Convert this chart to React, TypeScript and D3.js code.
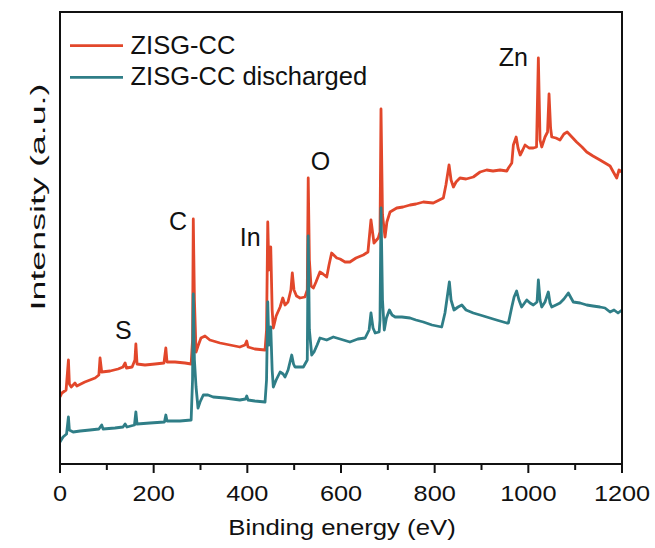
import React from "react";
import * as d3 from "d3";

// Binding energy (eV) and intensity (a.u.)
const redEnergy = [0,4,13,18,20,24,32,36,53,75,83,85.5,89,107,124,134.5,139,142,154,160,162,164.5,181.5,203,222,226,228.5,245.6,267,280,283,284.6,287,290.5,294.7,301,309.6,320,341.7,363,384,395,398.7,401.5,416,437.8,441,443.6,446,450,453,455.5,461.5,470,475.7,480.5,486.8,493,496,499.6,505,512.5,523,528,530,532.5,536,541,546.6,555,561.6,569.5,574.4,580,591,598,608.6,619,632,647.6,657.5,664,670.4,679.6,683.3,685.4,688.6,694,698,704.7,719,732.4,747.4,760,775.8,797,818.5,824,830.7,835,840,845.6,854,867,882.5,897,911,924.6,939.6,954,957.5,964.7,968,974,978,982.6,988,993,1001.5,1010.7,1017.5,1021.4,1025,1028.6,1035.6,1041,1044.2,1047.5,1050,1059,1067.6,1076,1083,1091,1103,1114.6,1124.7,1138,1153,1167.4,1174.5,1181.5,1188.7,1193.6,1200];
const redIntensity = [67,71,74,104,80,77,81,78,82,86,89,106,92,93,95,97,101,96,97,104,120,100,99,100,101,116,102,102,101,100,124,245,164,112,118,126,128,124,121,119,117,119,123,117,115,114,134,242,194,217,154,136,148,157,166,159,162,174,191,174,168,166,167,174,286,204,178,176,182,192,190,187,199,211,206,205,202,202,206,209,212,244,221,226,232,355,249,227,242,252,256,257,259,260,262,261,266,279,299,284,277,282,286,285,287,292,294,293,294,293,296,301,319,327,316,309,314,319,316,316,317,406,324,317,327,332,370,336,327,326,324,330,332,328,322,317,312,308,304,300,298,292,286,294,292];

const tealEnergy = [0,6.4,14,18,20,28,43,64,83,89,92,117.4,134.5,139,143,159,162,164.5,192,223,226,228.5,256,280,283,284.6,287,290.5,294.7,299,306,316,327,352,384,396,398.7,401.5,416,437.8,441,443.6,446,450,453,455.5,461.5,470,476.4,480.5,487,494.8,498.6,501.7,512.5,519.6,528,530,532.5,537.5,542.4,549,555,569.5,583.6,598,619,636,651.5,660,664,668.4,673,681.4,683.3,685.4,688.6,692.4,697,703.3,709,715.7,730,747.4,760,775.8,794.3,815,822,831.4,835,841.3,850,858,867,882.5,897,911,932,954,957.5,964.7,969.6,975,980,985.7,996.6,1003.6,1010.7,1018.6,1021.4,1025,1028.6,1035.6,1042.7,1046.3,1050,1059,1067.6,1076,1085.4,1096,1110.5,1124.7,1138,1153,1163.7,1174.5,1183,1191.5,1200];
const tealIntensity = [22,27,30,47,34,32,33,34,35,39,35,36,37,40,37,39,52,40,41,42,49,43,43,44,84,170,104,77,56,62,69,69,67,66,64,65,68,64,63,62,84,162,119,137,94,77,84,92,90,87,94,109,100,97,97,97,104,228,134,109,112,119,126,124,127,125,122,125,126,134,151,136,131,132,144,256,164,134,146,154,149,147,147,146,144,142,139,137,151,182,164,154,157,159,154,151,149,147,144,141,141,157,167,173,164,157,164,161,159,162,184,164,157,162,172,161,157,159,161,165,171,162,161,159,158,157,156,152,154,151,154];

const energyTicks = [0, 200, 400, 600, 800, 1000, 1200];
const minorTicks = [100, 300, 500, 700, 900, 1100];

const seriesNames = ["ZISG-CC", "ZISG-CC discharged"];
const seriesColors = ["#e2472b", "#2f7e87"];

const peakLabels = ["S", "C", "In", "O", "Zn"];
const peakEnergies = [135, 252, 406, 556, 968];
const peakHeights = [125, 234, 218, 294, 398];

const FONT = "'Liberation Sans', Arial, Helvetica, sans-serif";

export default function App() {
  const W = 655, H = 548;
  const left = 60, right = 622, top = 12, bottom = 464;
  const x = d3.scaleLinear().domain([0, 1200]).range([left, right]);
  const y = d3.scaleLinear().domain([0, 452]).range([bottom, top]);

  const line = d3.line<[number, number]>().x(d => x(d[0])).y(d => y(d[1]));
  const redPts: [number, number][] = redEnergy.map((e, i) => [e, redIntensity[i]]);
  const tealPts: [number, number][] = tealEnergy.map((e, i) => [e, tealIntensity[i]]);

  return (
    <svg width={W} height={H} style={{ position: "absolute", left: 0, top: 0, background: "#fff" }} fontFamily={FONT}>
      <rect x={0} y={0} width={W} height={H} fill="#fff" />
      <defs>
        <clipPath id="plotclip">
          <rect x={left} y={top} width={right - left} height={bottom - top} />
        </clipPath>
      </defs>
      <g clipPath="url(#plotclip)">
        <path d={line(redPts) || ""} fill="none" stroke={seriesColors[0]} strokeWidth={2.8} strokeLinejoin="round" />
        <path d={line(tealPts) || ""} fill="none" stroke={seriesColors[1]} strokeWidth={2.8} strokeLinejoin="round" />
      </g>
      <rect x={left} y={top} width={right - left} height={bottom - top} fill="none" stroke="#111" strokeWidth={2} />
      {energyTicks.map(t => (
        <g key={"t" + t}>
          <line x1={x(t)} x2={x(t)} y1={bottom} y2={bottom + 9} stroke="#111" strokeWidth={2} />
          <text transform={`translate(${x(t)},501) scale(1.15,1)`} textAnchor="middle" fontSize={22} fill="#111">{t}</text>
        </g>
      ))}
      {minorTicks.map(t => (
        <line key={"m" + t} x1={x(t)} x2={x(t)} y1={bottom} y2={bottom + 6} stroke="#111" strokeWidth={2} />
      ))}
      <text transform="translate(342,535) scale(1.17,1)" textAnchor="middle" fontSize={22} fill="#111">Binding energy (eV)</text>
      <text transform="translate(45,197) rotate(-90)" textAnchor="middle" fontSize={20} fill="#111" textLength={227} lengthAdjust="spacingAndGlyphs">Intensity (a.u.)</text>
      {seriesNames.map((n, i) => (
        <g key={n}>
          <line x1={70} x2={123} y1={45.7 + i * 31.6} y2={45.7 + i * 31.6} stroke={seriesColors[i]} strokeWidth={2.8} />
          <text x={130.5} y={54.3 + i * 30.7} fontSize={25.5} fill="#111">{n}</text>
        </g>
      ))}
      {peakLabels.map((p, i) => (
        <text key={p} x={x(peakEnergies[i])} y={y(peakHeights[i])} textAnchor="middle" fontSize={25} fill="#111">{p}</text>
      ))}
    </svg>
  );
}
